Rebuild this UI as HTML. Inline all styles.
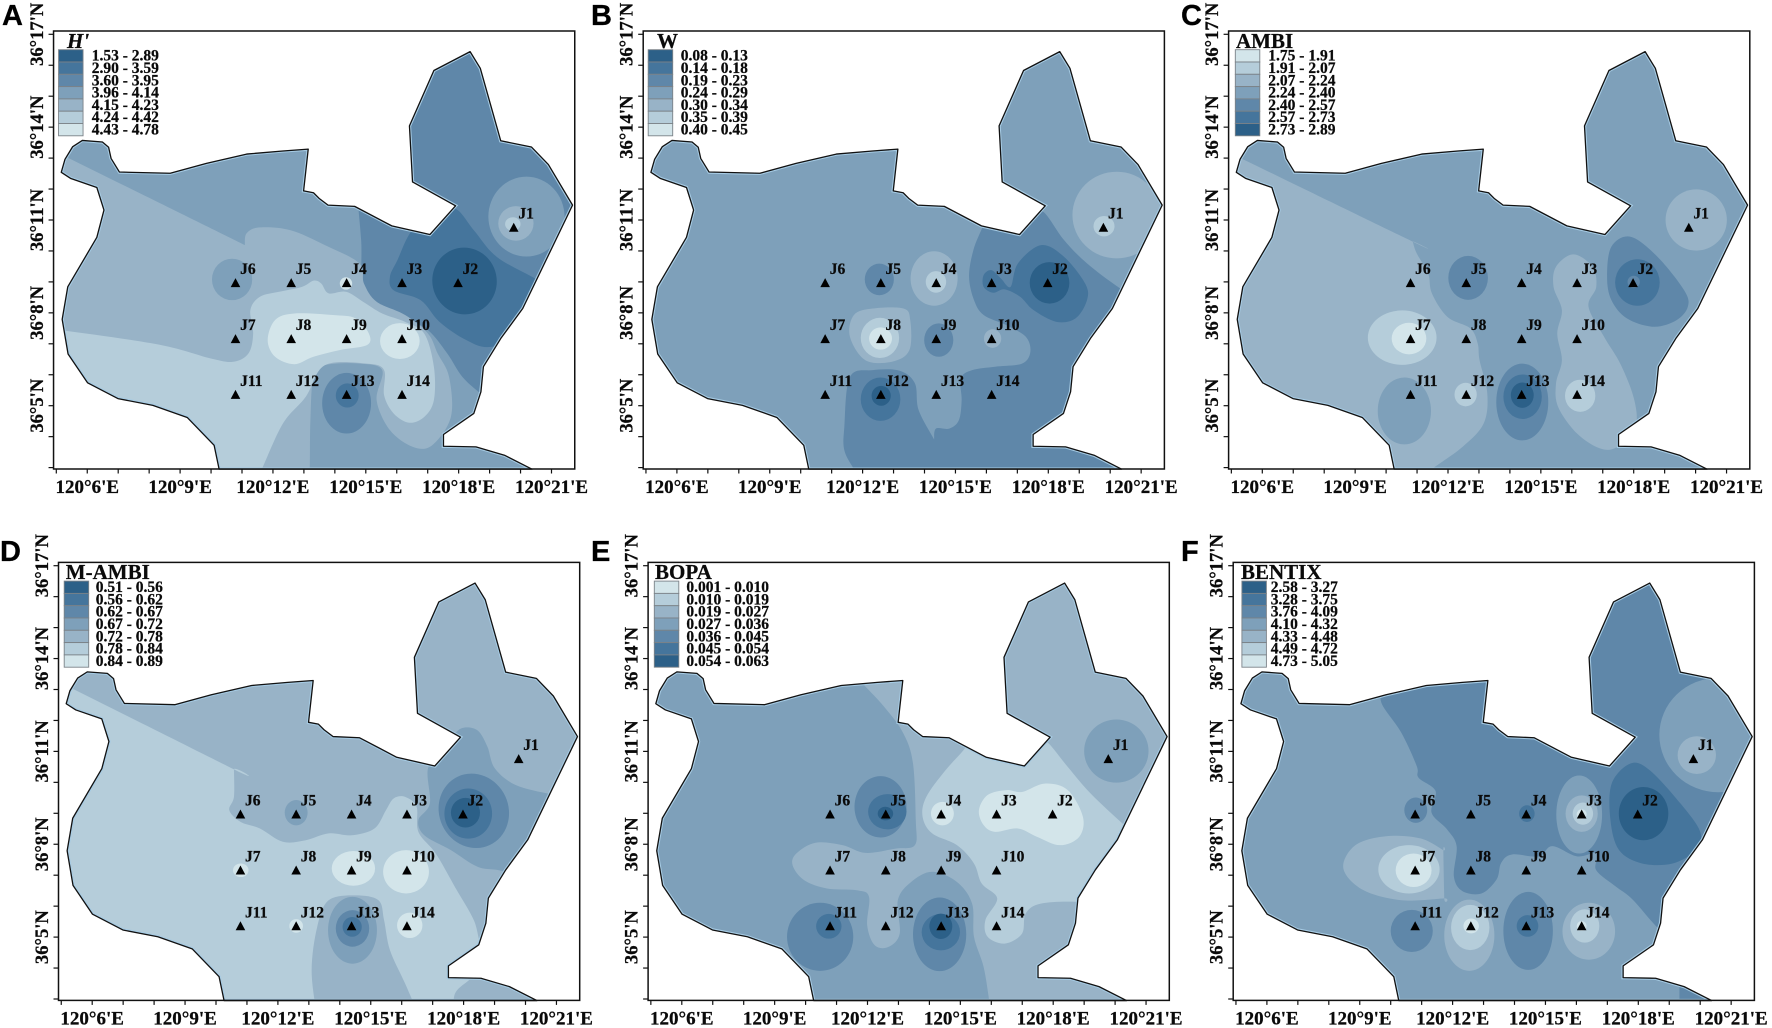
<!DOCTYPE html>
<html lang="en">
<head>
<meta charset="utf-8">
<title>Benthic index contour maps</title>
<style>
html,body{margin:0;padding:0;background:#fff;width:1772px;height:1028px;overflow:hidden}
svg{display:block}
text{font-family:"Liberation Serif",serif;font-weight:bold;fill:#0a0a0a;stroke:#0a0a0a;stroke-width:0.25px}
.letter{font-family:"Liberation Sans",sans-serif;font-size:29px;fill:#000;stroke:#000}
</style>
</head>
<body>
<svg id="figure" xmlns="http://www.w3.org/2000/svg" width="1772" height="1028" viewBox="0 0 1772 1028"></svg>
<script>
// Class colours, darkest (1) to lightest (7)
const classColors = ['', '#2c6088', '#45759c', '#5f87a9', '#7ea0ba', '#98b3c7', '#b5cdda', '#d3e5ea'];

// Axis ticks, in arc minutes past 120°E and 36°N
const lonTicks = [5,6,7,8,9,10,11,12,13,14,15,16,17,18,19,20,21];
const lonLabels = [6,9,12,15,18,21];
const latTicks = [3,4,5,6,7,8,9,10,11,12,13,14,15,16,17];
const latLabels = [17,14,11,8,5];

// Stations
const stationNames = ['J1','J2','J3','J4','J5','J6','J7','J8','J9','J10','J11','J12','J13','J14'];
const stationLon = [19.78,17.98,16.17,14.38,12.59,10.79,10.79,12.59,14.38,16.17,10.79,12.59,14.38,16.17];
const stationLat = [10.76,8.97,8.97,8.97,8.97,8.97,7.16,7.16,7.16,7.16,5.36,5.36,5.36,5.36];

// Bay outline as [lon', lat']
const boundary = [[5.84,13.57],[6.49,13.52],[6.69,13.35],[6.77,12.99],[7.04,12.55],[8.68,12.51],[9.85,12.83],[11.15,13.13],[12.32,13.23],[13.14,13.29],[12.99,11.94],[13.31,11.88],[13.49,11.70],[13.78,11.48],[14.64,11.44],[15.84,10.81],[17.07,10.53],[17.90,11.46],[16.51,12.23],[16.41,14.04],[17.20,15.83],[18.37,16.44],[18.70,15.90],[19.36,13.56],[20.35,13.36],[20.90,12.79],[21.68,11.48],[20.07,8.14],[19.36,7.17],[18.80,6.26],[18.72,5.45],[18.49,4.75],[17.51,4.07],[17.51,3.69],[18.56,3.67],[19.48,3.40],[20.37,2.95],[10.26,2.95],[10.10,3.72],[9.23,4.62],[8.12,5.01],[6.99,5.23],[6.01,5.74],[5.38,6.67],[5.19,7.79],[5.37,8.84],[6.31,10.44],[6.54,11.32],[6.31,12.05],[5.47,12.34],[5.16,12.54],[5.28,12.96],[5.53,13.37]];

// Legends
const rangesA = ['1.53 - 2.89','2.90 - 3.59','3.60 - 3.95','3.96 - 4.14','4.15 - 4.23','4.24 - 4.42','4.43 - 4.78'];
const rangesB = ['0.08 - 0.13','0.14 - 0.18','0.19 - 0.23','0.24 - 0.29','0.30 - 0.34','0.35 - 0.39','0.40 - 0.45'];
const rangesC = ['1.75 - 1.91','1.91 - 2.07','2.07 - 2.24','2.24 - 2.40','2.40 - 2.57','2.57 - 2.73','2.73 - 2.89'];
const rangesD = ['0.51 - 0.56','0.56 - 0.62','0.62 - 0.67','0.67 - 0.72','0.72 - 0.78','0.78 - 0.84','0.84 - 0.89'];
const rangesE = ['0.001 - 0.010','0.010 - 0.019','0.019 - 0.027','0.027 - 0.036','0.036 - 0.045','0.045 - 0.054','0.054 - 0.063'];
const rangesF = ['2.58 - 3.27','3.28 - 3.75','3.76 - 4.09','4.10 - 4.32','4.33 - 4.48','4.49 - 4.72','4.73 - 5.05'];

// Contour bands, painted in order.
// ['e', class, lon, lat, radiusLon, radiusLat, rotation] or ['p', class, [[lon, lat, isCorner], ...]]
const contoursA = [
 ['p',4,[[4,17,1],[14.6,17,1],[14.7,12,1],[14.85,10.35],[14.9,9.0],[15.35,8.3],[16.27,7.82],[17.01,7.44],[17.63,6.69],[18.12,5.93],[18.7,5.4,1],[18.7,4.0,1],[21,2.5,1],[4,2.5,1]]],
 ['p',2,[[16.46,10.62],[16.02,9.7],[15.78,9.17],[15.9,8.73],[16.77,8.41],[17.38,7.71],[18.25,7.12],[19.05,6.9],[20.47,7.33,1],[21.09,8.73,1],[20.47,9.11],[19.23,9.81],[18.49,10.67],[17.88,11.37],[17.14,11.21,1]]],
 ['e',1,18.19,9.03,1.04,1.08,-12],
 ['p',5,[[4,13.69,1],[11.09,10.19,1],[11.15,10.57],[11.58,10.76],[12.57,10.67],[13.68,10.19],[14.79,9.6],[14.94,8.95],[15.35,8.36],[16.27,7.93],[17.01,7.33],[17.32,6.69],[17.69,5.93],[17.75,4.64],[17.14,3.72],[16.52,3.67],[15.78,4.21],[15.35,5.18],[15.53,6.15],[14.79,6.36],[13.68,6.31],[13.31,5.94],[13.21,4.53],[13.19,2.95],[13.15,2.5,1],[4,2.5,1]]],
 ['p',6,[[4,7.6,1],[8.12,7.01],[9.98,6.53],[10.72,6.42],[11.21,6.69],[11.36,7.33],[11.27,8.09],[11.58,8.52],[12.2,8.68],[12.94,8.84],[13.31,9.04],[13.56,8.95],[13.8,8.63],[14.36,8.68],[14.91,8.36],[15.53,7.98],[16.27,7.71],[16.89,7.33],[17.2,6.26],[17.2,5.18],[16.89,4.64],[16.4,4.45],[15.9,4.75],[15.59,5.34],[15.59,6.15],[15.04,6.36],[13.68,6.31],[13.06,5.29],[12.32,4.42],[11.64,2.95],[11.4,2.5,1],[4,2.5,1]]],
 ['p',7,[[11.83,7.12],[12.07,7.77],[12.69,7.98],[13.93,7.93],[14.67,7.82],[15.1,7.33],[15.04,6.96],[14.17,6.8],[13.31,6.58],[12.69,6.34],[12.07,6.58]]],
 ['e',7,16.1,7.09,0.64,0.58,0],
 ['e',7,14.36,8.95,0.2,0.2,0],
 ['e',4,10.68,9.08,0.65,0.67,0],
 ['e',3,14.38,5.08,0.79,0.98,0],
 ['e',2,14.4,5.33,0.37,0.39,0],
 ['e',4,20.19,11.11,1.23,1.29,0],
 ['e',5,19.85,10.89,0.57,0.56,0],
 ['e',6,19.75,10.87,0.25,0.22,0]
];
const contoursB = [
 ['p',3,[[16.04,11.2,1],[15.88,10.78],[15.58,10.03],[15.44,9.17],[15.6,8.41],[15.91,7.93],[16.65,7.6],[17.27,7.23],[17.42,6.74],[17.15,6.36],[16.28,6.26],[15.54,6.15],[15.17,5.88],[15.2,5.18],[15.11,4.53],[14.8,4.26],[14.37,4.26],[14.31,3.91,1],[13.81,4.86],[13.69,5.72],[13.2,6.13],[12.33,6.15],[11.59,5.93],[11.41,4.32],[11.41,3.56],[11.72,2.95],[12,2.5,1],[22.5,2.5,1],[21.72,7.87,1],[20.32,8.79],[19.25,9.6],[18.51,10.35],[17.83,11.27],[17.4,11.1,1]]],
 ['e',5,20.21,11.16,1.43,1.4,0],
 ['e',6,19.8,10.8,0.34,0.33,0],
 ['e',3,12.54,9.08,0.47,0.51,0],
 ['e',5,14.31,9.11,0.76,0.88,0],
 ['e',6,14.37,9.0,0.33,0.35,0],
 ['p',2,[[16.78,8.84],[17.02,9.6],[17.77,10.19],[18.51,9.81],[19.19,8.95],[19.25,8.41],[18.88,7.82],[18.26,7.71],[17.52,8.09],[17.09,8.52],[16.59,8.76],[16.22,8.65],[15.91,8.84],[15.91,9.22],[16.16,9.38],[16.47,9.11]]],
 ['e',1,18.04,8.97,0.64,0.67,0],
 ['p',5,[[11.59,7.23],[11.72,7.93],[12.33,8.14],[13.32,8.14],[13.54,7.76],[13.51,6.79],[12.95,6.42],[12.09,6.47]]],
 ['e',6,12.56,7.19,0.62,0.65,0],
 ['e',7,12.58,7.17,0.37,0.36,0],
 ['e',3,14.46,7.12,0.47,0.54,0],
 ['e',5,16.2,7.17,0.28,0.3,0],
 ['e',2,12.58,5.21,0.64,0.7,0],
 ['e',1,12.6,5.32,0.31,0.32,0]
];
const contoursC = [
 ['p',5,[[4,13.63,1],[10.86,10.3,1],[10.99,9.92],[11.36,9.27],[11.48,8.63],[11.98,7.87],[12.72,7.5],[12.96,7.01],[13.02,6.47],[13.27,5.39],[13.15,4.42],[12.47,3.67],[11.48,2.95],[11,2.5,1],[4,2.5,1]]],
 ['p',5,[[16.05,9.89],[16.67,9.49],[16.79,8.84],[16.54,8.2],[17.04,7.23],[17.59,6.31],[18.02,5.18],[18.05,4.32],[17.47,3.67],[16.91,3.62],[16.17,4.1],[15.56,4.96],[15.49,5.72],[15.68,6.47],[15.53,7.33],[15.68,8.09],[15.41,8.84],[15.49,9.49]]],
 ['e',6,16.27,5.32,0.49,0.52,0],
 ['e',5,20.02,11.0,0.99,0.99,0],
 ['p',3,[[17.14,9.17],[17.28,10.14],[17.9,10.46],[18.77,9.81],[19.63,8.73],[19.75,8.2],[19.38,7.76],[18.64,7.55],[17.78,7.82],[17.28,8.41]]],
 ['e',2,18.12,8.98,0.72,0.75,0],
 ['e',3,18.0,9.0,0.2,0.2,0],
 ['e',3,12.65,9.13,0.64,0.71,0],
 ['e',6,10.52,7.2,1.11,0.88,0],
 ['e',7,10.74,7.17,0.56,0.51,0],
 ['e',4,10.59,4.83,0.86,1.08,0],
 ['e',6,12.57,5.36,0.36,0.38,0],
 ['e',3,14.4,5.12,0.84,1.24,0],
 ['e',2,14.41,5.29,0.62,0.72,0],
 ['e',1,14.4,5.34,0.37,0.41,0]
];
const contoursD = [
 ['p',4,[[16.85,10.45],[17.35,11.04,1],[17.72,11.58],[18.02,11.77],[18.46,11.67],[18.77,11.15],[19.01,10.45],[19.69,9.91],[20.8,9.62],[21.5,9.5,1],[20.5,6.5,1],[19.32,7.11],[18.46,7.27],[17.59,7.81],[16.73,8.29],[16.54,8.78],[16.91,9.32]]],
 ['p',6,[[4,13.71,1],[10.58,10.42,1],[10.58,9.53],[10.43,9.1],[10.8,8.72],[11.42,8.51],[12.16,8.08],[12.9,8.13],[13.64,8.35],[14.38,8.29],[15.12,8.51],[15.49,9.1],[15.74,9.48],[16.11,9.53],[16.48,9.21],[16.54,8.4],[17.1,7.7],[17.72,6.62],[18.33,5.55],[18.6,4.68],[19.2,4.4,1],[18.2,3.63],[17.72,3.17],[17.7,2.5,1],[16.54,2.5,1],[16.11,3.5],[15.62,4.58],[15.43,5.55],[15.25,6.19],[14.51,6.35],[13.64,6.19],[13.27,5.33],[13.09,3.93],[13.25,2.5,1],[4,2.5,1]]],
 ['e',3,18.33,9.08,1.12,1.22,-25],
 ['e',2,18.15,8.99,0.77,0.81,0],
 ['e',1,18.06,9.02,0.47,0.48,0],
 ['e',4,12.59,9.02,0.37,0.41,0],
 ['e',7,14.44,7.22,0.7,0.56,0],
 ['e',7,16.14,7.11,0.74,0.7,0],
 ['e',7,10.8,7.16,0.25,0.22,0],
 ['e',7,12.59,5.36,0.22,0.22,0],
 ['e',7,16.26,5.38,0.41,0.41,0],
 ['e',4,14.41,5.22,0.79,1.08,0],
 ['e',3,14.41,5.28,0.54,0.59,0],
 ['e',2,14.4,5.33,0.31,0.32,0]
];
const contoursE = [
 ['p',5,[[11.56,13.47,1],[11.86,13.17],[12.54,12.44],[13.16,11.58],[13.47,10.61],[13.56,8.78],[13.53,7.97],[12.91,7.86],[11.93,7.72],[11.19,7.97],[10.32,8.05],[9.7,7.7],[9.58,7.32],[9.95,6.84],[10.69,6.57],[11.68,6.51],[12.05,6.3],[11.99,5.38],[12.23,4.74],[12.67,4.68],[13.04,5.11],[12.98,6.19],[13.41,6.78],[14.09,7.11],[14.89,6.78],[15.38,6.08],[15.44,5.01],[15.75,4.04],[15.94,2.9],[16,2.5,1],[23,2.5,1],[23,17,1],[13,17,1]]],
 ['p',6,[[15.38,11.58,1],[17.6,11.3,1],[17.85,11.26],[18.47,10.5],[19.21,9.64],[20.26,8.65],[21,8.0,1],[20.2,6.0,1],[18.78,6.14],[17.6,6.08],[17.11,5.76],[16.99,5.11],[16.43,4.79],[15.88,5.01],[15.81,5.55],[16.19,6.25],[15.69,6.73],[15.44,7.38],[14.89,7.97],[14.09,8.35],[13.78,8.89],[13.9,9.53],[14.52,10.39],[15.14,11.09]]],
 ['p',7,[[15.6,9.1],[15.88,9.59],[16.49,9.75],[16.99,9.69],[17.73,9.96],[18.47,9.75],[18.96,8.89],[18.84,8.24],[18.22,7.97],[17.48,8.24],[16.86,8.51],[16.12,8.4],[15.75,8.62]]],
 ['e',7,14.42,8.99,0.37,0.38,0],
 ['e',4,20.04,11.01,1.04,1.02,0],
 ['e',3,12.42,9.21,0.84,0.99,0],
 ['e',2,12.64,9.05,0.62,0.57,0],
 ['e',1,12.58,8.99,0.25,0.22,0],
 ['e',3,10.47,5.01,1.07,1.1,0],
 ['e',2,10.75,5.35,0.41,0.4,0],
 ['e',3,14.33,5.09,0.86,1.19,0],
 ['e',2,14.37,5.16,0.62,0.59,0],
 ['e',1,14.37,5.35,0.37,0.41,0]
];
const contoursF = [
 ['p',3,[[9.7,13,1],[9.72,12.52],[10.34,11.61],[10.84,10.53],[10.9,10.15],[11.45,9.72],[11.32,9.02],[11.82,8.48],[12.13,7.94],[12.04,6.97],[12.31,6.49],[12.93,6.41],[13.42,6.86],[13.57,7.4],[13.92,7.67],[14.78,7.61],[15.22,7.94],[16.02,7.61],[16.69,7.72],[16.63,7.18],[17.25,6.65],[17.81,6.22],[18.68,5.25],[19.3,4.9,1],[23,5,1],[23,17,1],[10,17,1]]],
 ['p',3,[[19.33,3.5,1],[19.33,2.5,1],[22,2.5,1],[22,3.5,1]]],
 ['e',4,20.59,11.53,1.91,1.85,0],
 ['e',5,19.89,10.88,0.62,0.61,0],
 ['p',2,[[17.1,8.78],[17.14,9.96],[17.75,10.61],[18.37,10.39],[19.36,9.32],[20.0,8.4],[19.85,7.81],[19.11,7.38],[18.12,7.38],[17.38,7.81]]],
 ['e',1,18.17,8.99,0.8,0.86,0],
 ['e',4,16.09,8.96,0.74,1.26,0],
 ['e',5,16.17,8.99,0.52,0.59,0],
 ['e',6,16.21,8.99,0.33,0.36,0],
 ['e',7,16.17,8.97,0.16,0.16,0],
 ['e',3,10.81,9.1,0.37,0.41,0],
 ['e',2,14.4,8.99,0.25,0.27,0],
 ['p',5,[[8.47,7.22],[8.86,7.97],[9.85,8.26],[10.96,8.19],[11.7,7.81,1],[11.73,6.25,1],[10.35,6.19],[9.11,6.52]]],
 ['e',6,10.59,7.19,0.99,0.78,0],
 ['e',7,10.74,7.16,0.58,0.54,0],
 ['e',3,10.68,5.2,0.68,0.68,0],
 ['e',5,12.54,5.06,0.81,1.15,0],
 ['e',6,12.57,5.31,0.62,0.73,0],
 ['e',7,12.6,5.36,0.25,0.24,0],
 ['e',3,14.44,5.2,0.8,1.26,0],
 ['e',2,14.42,5.36,0.35,0.35,0],
 ['e',5,16.4,5.19,0.85,0.92,0],
 ['e',6,16.27,5.36,0.47,0.54,0],
 ['e',7,16.17,5.36,0.16,0.16,0]
];

// Panel layout: origin is the pixel of tick 120°6'E and 36°17'N
const panels = [
 {id:'a',letter:'A',lx:2,ly:25,ox:87.25,oy:34.3,bg:3,title:"H'",italic:true,tx:67,sx:-28.7,lt:4.5,ranges:rangesA,start:1,contours:contoursA},
 {id:'b',letter:'B',lx:591,ly:25,ox:676.9,oy:34.3,bg:4,title:'W',italic:false,tx:657,sx:-28.7,lt:3.8,ranges:rangesB,start:1,contours:contoursB},
 {id:'c',letter:'C',lx:1181,ly:25,ox:1262.3,oy:34.3,bg:4,title:'AMBI',italic:false,tx:1236,sx:-27,lt:6,ranges:rangesC,start:7,contours:contoursC},
 {id:'d',letter:'D',lx:0,ly:561,ox:92.2,oy:565.7,bg:5,title:'M-AMBI',italic:false,tx:65.8,sx:-28,lt:3.5,ranges:rangesD,start:1,contours:contoursD},
 {id:'e',letter:'E',lx:591,ly:561,ox:681.8,oy:565.7,bg:4,title:'BOPA',italic:false,tx:655,sx:-27.5,lt:4.6,ranges:rangesE,start:7,contours:contoursE},
 {id:'f',letter:'F',lx:1181,ly:561,ox:1266.9,oy:565.7,bg:4,title:'BENTIX',italic:false,tx:1241,sx:-25,lt:3.8,ranges:rangesF,start:1,contours:contoursF}
];

const PX_PER_MIN = 30.95;
const NS = 'http://www.w3.org/2000/svg';
const root = document.getElementById('figure');

function make(parent, tag, attrs, txt) {
  const node = document.createElementNS(NS, tag);
  for (const k in attrs) node.setAttribute(k, attrs[k]);
  if (txt !== undefined) node.textContent = txt;
  parent.appendChild(node);
  return node;
}

// Closed Catmull-Rom curve; points flagged as corners are doubled so they stay sharp
function smoothPath(points) {
  const p = [];
  points.forEach(function (q) {
    p.push(q);
    if (q[2]) p.push(q);
  });
  const n = p.length;
  let d = 'M' + p[0][0].toFixed(2) + ' ' + p[0][1].toFixed(2);
  for (let i = 0; i < n; i++) {
    const a = p[(i - 1 + n) % n], b = p[i], c = p[(i + 1) % n], e = p[(i + 2) % n];
    const c1x = b[0] + (c[0] - a[0]) / 6, c1y = b[1] + (c[1] - a[1]) / 6;
    const c2x = c[0] - (e[0] - b[0]) / 6, c2y = c[1] - (e[1] - b[1]) / 6;
    d += 'C' + c1x.toFixed(2) + ' ' + c1y.toFixed(2) + ' ' + c2x.toFixed(2) + ' ' + c2y.toFixed(2) + ' ' + c[0].toFixed(2) + ' ' + c[1].toFixed(2);
  }
  return d + 'Z';
}

const defs = make(root, 'defs', {});

panels.forEach(function (pn) {
  const xScale = function (lon) { return pn.ox + (lon - 6) * PX_PER_MIN; };
  const yScale = function (lat) { return pn.oy + (17 - lat) * PX_PER_MIN; };

  const g = make(root, 'g', {});
  
  

  const letter = make(g, 'text', {x: pn.lx, y: pn.ly, 'class': 'letter'}, pn.letter);
  
  

  const outline = 'M' + boundary.map(function (b) { return xScale(b[0]).toFixed(2) + ' ' + yScale(b[1]).toFixed(2); }).join('L') + 'Z';
  const clip = make(defs, 'clipPath', {id: 'clip-' + pn.id});
  make(clip, 'path', {d: outline});

  const map = make(g, 'g', {'clip-path': 'url(#clip-' + pn.id + ')'});
  
  

  const base = make(map, 'path', {d: outline, fill: classColors[pn.bg]});
  
  

  pn.contours.forEach(function (r) {
    let band;
    if (r[0] === 'e') {
      const cx = xScale(r[2]), cy = yScale(r[3]);
      band = make(map, 'ellipse', {cx: cx, cy: cy, rx: r[4] * PX_PER_MIN, ry: r[5] * PX_PER_MIN, fill: classColors[r[1]], transform: 'rotate(' + r[6] + ' ' + cx + ' ' + cy + ')'});
    } else {
      const pts = r[2].map(function (q) { return [xScale(q[0]), yScale(q[1]), q[2]]; });
      band = make(map, 'path', {d: smoothPath(pts), fill: classColors[r[1]]});
    }
    
    
  });

  const halo = make(map, 'path', {d: outline, fill: 'none', stroke: '#a6cbe4', 'stroke-width': 3.4});
  
  

  const coast = make(g, 'path', {d: outline, fill: 'none', stroke: '#111', 'stroke-width': 1.3, 'stroke-linejoin': 'round'});
  
  

  const left = pn.ox - 33.7, right = pn.ox + 487.5, top = pn.oy - 3.3, bottom = pn.oy + 434.7;
  const frame = make(g, 'rect', {x: left, y: top, width: right - left, height: bottom - top, fill: 'none', stroke: '#111', 'stroke-width': 1.5});
  
  

  lonTicks.forEach(function (v) {
    const t = make(g, 'line', {x1: xScale(v), x2: xScale(v), y1: bottom, y2: bottom + 4.5, stroke: '#111', 'stroke-width': 1.2});
    
    
  });
  latTicks.forEach(function (v) {
    const t = make(g, 'line', {x1: left - 5, x2: left, y1: yScale(v), y2: yScale(v), stroke: '#111', 'stroke-width': 1.2});
    
    
  });
  lonLabels.forEach(function (v) {
    const t = make(g, 'text', {x: xScale(v), y: bottom + 24, 'text-anchor': 'middle', 'font-size': 19}, '120°' + v + "'E");
    
    
  });
  latLabels.forEach(function (v) {
    const lx = left - 10.5, ly = yScale(v);
    const t = make(g, 'text', {x: lx, y: ly, 'text-anchor': 'middle', 'font-size': 18.6, transform: 'rotate(-90 ' + lx + ' ' + ly + ')'}, '36°' + v + "'N");
    
    
  });

  // Legend
  const title = make(g, 'text', {x: pn.tx, y: pn.oy + 13.5, 'font-size': 21, 'font-style': pn.italic ? 'italic' : 'normal'}, pn.title);
  
  
  const pitch = 12.3, legendTop = pn.oy + 15.4;
  pn.ranges.forEach(function (label, i) {
    const cls = pn.start === 1 ? i + 1 : 7 - i;
    const sw = make(g, 'rect', {x: pn.ox + pn.sx, y: legendTop + i * pitch, width: 24.5, height: pitch, fill: classColors[cls], stroke: '#7b8288', 'stroke-width': 0.9});
    
    
    const t = make(g, 'text', {x: pn.ox + pn.lt, y: legendTop + (i + 0.5) * pitch + 4.8, 'font-size': 15.5}, label);
    
    
  });

  // Stations
  stationNames.forEach(function (name, i) {
    const sx = xScale(stationLon[i]), sy = yScale(stationLat[i]);
    const tri = make(g, 'path', {d: 'M' + sx + ' ' + (sy - 4.7) + 'L' + (sx + 4.8) + ' ' + (sy + 4.3) + 'L' + (sx - 4.8) + ' ' + (sy + 4.3) + 'Z', fill: '#000'});
    
    
    const t = make(g, 'text', {x: sx + 4.6, y: sy - 8.7, 'font-size': 15.5}, name);
    
    
  });
});
</script>
</body>
</html>
